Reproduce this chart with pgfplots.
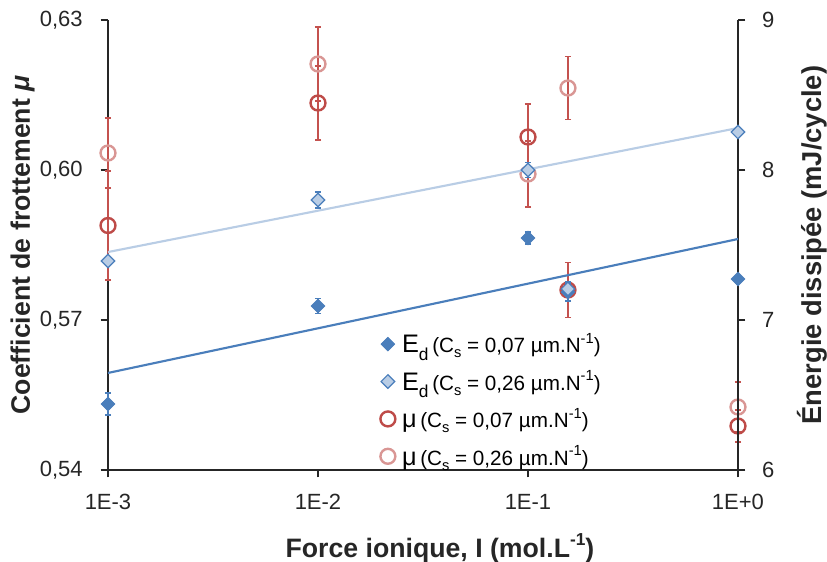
\documentclass[border=0pt]{standalone}
\usepackage{pgfplots}
\pgfplotsset{compat=1.18}
\usepackage{fontspec}
\setmainfont{Liberation Sans}
\definecolor{dblue}{RGB}{74,126,187}
\definecolor{lblue}{RGB}{185,205,229}
\definecolor{dred}{RGB}{190,75,72}
\definecolor{lred}{RGB}{217,150,148}
\definecolor{ebar}{RGB}{196,82,79}
\definecolor{axc}{RGB}{38,38,38}
\newcommand{\legE}{\hspace{3pt}{\fontsize{19}{19}\selectfont E\raisebox{-0.3em}{\fontsize{13}{14}\selectfont d}}}
\newcommand{\legM}{\hspace{3pt}{\fontsize{19}{19}\selectfont μ}}
\newcommand{\legS}[1]{{\fontsize{15.5}{16}\selectfont (C\raisebox{-0.25em}{\fontsize{11}{12}\selectfont s} = #1 µm.N\raisebox{0.45em}{\fontsize{11}{12}\selectfont -1})}}
\begin{document}
\begin{tikzpicture}
\begin{axis}[
  scale only axis, width=472.5pt, height=337.5pt,
  xmode=log, xmin=0.001, xmax=1,
  xtick={0.001,0.01,0.1,1}, xticklabels={1E-3,1E-2,1E-1,1E+0},
  xminorticks=false,
  tick align=outside, major tick length=5.5pt,
  axis line style={axc, line width=1.4pt},
  every tick/.style={axc, line width=1.4pt},
  tick label style={font=\fontsize{16.5}{18}\selectfont, text=axc},
  xticklabel style={yshift=-9pt},
  yticklabel style={xshift=-10pt},
  label style={font=\bfseries\fontsize{20}{22}\selectfont, text=axc},
  clip=false,
  axis x line*=bottom, axis y line*=left,
  ymin=0.54, ymax=0.63, ytick={0.54,0.57,0.60,0.63},
  yticklabels={{0,54},{0,57},{0,60},{0,63}},
  xlabel={Force ionique, I (mol.L\raisebox{0.45em}{\fontsize{13}{14}\selectfont -1})},
  xlabel style={at={(axis description cs:0.527,-0.173)}, anchor=center},
  ylabel={Coefficient de frottement \textit{μ}},
  ylabel style={at={(axis description cs:-0.135,0.5)}, anchor=center},
]
% mu, Cs = 0.07
\addplot[only marks, mark=o, mark size=5.6pt, dred, line width=1.8pt,
  error bars/.cd, y dir=both, y explicit,
  error bar style={ebar, line width=1.1pt},
  error mark options={rotate=90, mark size=2.4pt, ebar, line width=1.1pt}]
  coordinates {
  (0.001,0.5889) +- (0,0.0109)
  (0.01,0.6134) +- (0,0.0074)
  (0.1,0.6066) +- (0,0.0066)
  (0.155,0.5760) +- (0,0.0055)
  (1,0.5488) +- (0,0.0032)
  };
% mu, Cs = 0.26
\addplot[only marks, mark=o, mark size=5.6pt, lred, line width=1.8pt,
  error bars/.cd, y dir=both, y explicit,
  error bar style={ebar, line width=1.1pt},
  error mark options={rotate=90, mark size=2.4pt, ebar, line width=1.1pt}]
  coordinates {
  (0.001,0.6034) +- (0,0.0070)
  (0.01,0.6212) +- (0,0.0074)
  (0.1,0.5992) +- (0,0.0066)
  (0.155,0.6164) +- (0,0.0063)
  (1,0.5526) +- (0,0.0050)
  };
\end{axis}
\begin{axis}[
  scale only axis, width=472.5pt, height=337.5pt,
  xmode=log, xmin=0.001, xmax=1, xminorticks=false,
  tick align=outside, major tick length=5.5pt,
  axis line style={axc, line width=1.4pt},
  every tick/.style={axc, line width=1.4pt},
  tick label style={font=\fontsize{16.5}{18}\selectfont, text=axc},
  yticklabel style={xshift=9pt},
  label style={font=\bfseries\fontsize{20.5}{22}\selectfont, text=axc},
  clip=false,
  axis x line=none, axis y line*=right,
  ymin=6, ymax=9, ytick={6,7,8,9}, yticklabels={6,7,8,9},
  ylabel={Énergie dissipée (mJ/cycle)},
  ylabel style={at={(axis description cs:1.1175,0.5)}, anchor=center},
  legend style={at={(axis description cs:0.432,0.31)}, anchor=north west,
    draw=none, fill=none, row sep=8pt, inner sep=0pt},
  legend cell align=left,
]
% trend lines
\addplot[forget plot, lblue, line width=1.6pt] coordinates {(0.001,7.453) (1,8.28)};
\addplot[forget plot, dblue, line width=1.6pt] coordinates {(0.001,6.647) (1,7.54)};
% Ed, Cs = 0.07
\addplot[only marks, mark=square*, mark size=3.6pt,
  mark options={rotate=45, fill=dblue, draw=dblue, line width=0.6pt},
  error bars/.cd, y dir=both, y explicit,
  error bar style={dblue, line width=1.1pt},
  error mark options={rotate=90, mark size=2.4pt, dblue, line width=1.1pt}]
  coordinates {
  (0.001,6.44) +- (0,0.073)
  (0.01,7.093) +- (0,0.05)
  (0.1,7.547) +- (0,0.04)
  (0.155,7.187) +- (0,0.06)
  (1,7.273) +- (0,0.02)
  };
\addlegendentry{\legE\ \legS{0,07}}
% Ed, Cs = 0.26
\addplot[only marks, mark=square*, mark size=3.6pt,
  mark options={rotate=45, fill=lblue, draw=dblue, line width=0.9pt},
  error bars/.cd, y dir=both, y explicit,
  error bar style={dblue, line width=1.1pt},
  error mark options={rotate=90, mark size=2.4pt, dblue, line width=1.1pt}]
  coordinates {
  (0.001,7.393) +- (0,0.02)
  (0.01,7.80) +- (0,0.053)
  (0.1,8.0) +- (0,0.05)
  (0.155,7.207) +- (0,0.05)
  (1,8.253) +- (0,0.03)
  };
\addlegendentry{\legE\ \legS{0,26}}
\addlegendimage{only marks, mark=o, mark size=5.6pt, dred, line width=1.8pt}
\addlegendentry{\legM\ \legS{0,07}}
\addlegendimage{only marks, mark=o, mark size=5.6pt, lred, line width=1.8pt}
\addlegendentry{\legM\ \legS{0,26}}
\end{axis}
\pgfresetboundingbox
\path[use as bounding box] (-81pt,-68.25pt) rectangle (539.25pt,352.5pt);
\end{tikzpicture}
\end{document}
